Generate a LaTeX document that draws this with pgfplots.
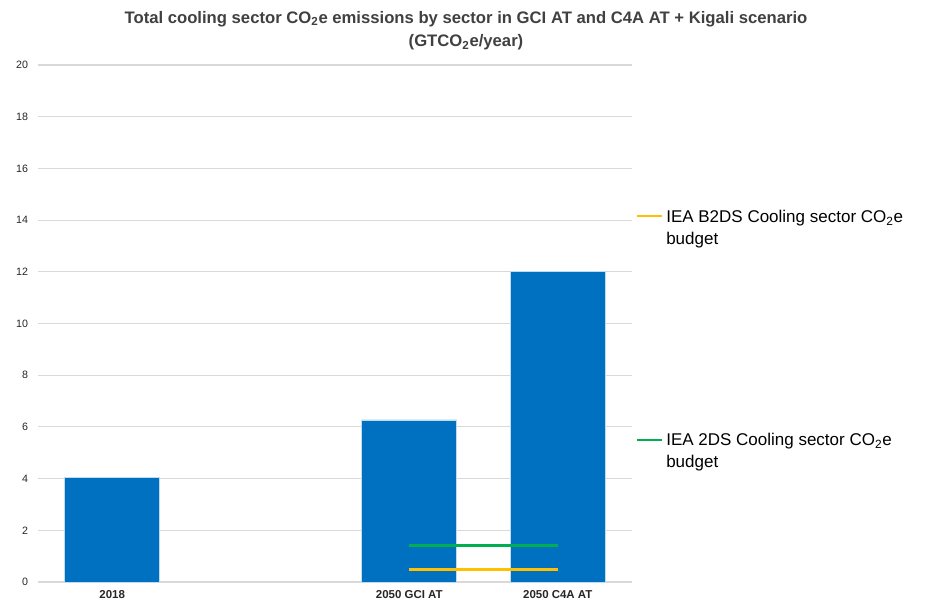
\documentclass[border=0pt]{standalone}
\usepackage{pgfplots}
\pgfplotsset{compat=1.18}
\usepackage{fontspec}
\setmainfont{Liberation Sans}
\definecolor{barblue}{HTML}{0070C0}
\definecolor{kgreen}{HTML}{00B050}
\definecolor{kyellow}{HTML}{FFC000}
\definecolor{gridgrey}{HTML}{D9D9D9}
\definecolor{titlegrey}{HTML}{404040}
\begin{document}
\begin{tikzpicture}
\path[use as bounding box] (0,0) rectangle (697.5pt,451.5pt);
\begin{axis}[
  at={(28.5pt,15pt)}, anchor=south west,
  scale only axis, width=445.5pt, height=387.75pt,
  xmin=-0.5, xmax=3.5, ymin=0, ymax=20,
  xtick={0,2,3}, xticklabels={2018,2050 GCI AT,2050 C4A AT},
  ytick={0,2,...,20},
  axis line style={draw=none},
  major tick length=0pt,
  ymajorgrids, grid style={gridgrey, line width=0.8pt},
  tick label style={font=\fontsize{8}{9}\selectfont, text=black!85},
  xticklabel style={font=\fontsize{8.6}{9}\selectfont\bfseries, yshift=-3pt},
  yticklabel style={xshift=-4pt},
  /pgf/number format/assume math mode=true,
  clip=false,
]
\addplot[ybar, bar width=71.25pt, fill=barblue, draw=white!75!barblue, line width=0.5pt]
  coordinates {(0,4.06) (2,6.27) (3,12.03)};
\addplot[kgreen, line width=2.2pt] coordinates {(2,1.40) (3,1.40)};
\addplot[kyellow, line width=2.2pt] coordinates {(2,0.50) (3,0.50)};
\end{axis}
\node[align=center, font=\fontsize{12.5}{17.5}\selectfont\bfseries, text=titlegrey] at (349.5pt,428.5pt)
  {Total cooling sector CO\textsubscript{2}e emissions by sector in GCI AT and C4A AT + Kigali scenario\\(GTCO\textsubscript{2}e/year)};
\draw[kyellow, line width=2.2pt] (477.75pt,289.5pt) -- (496.5pt,289.5pt);
\node[anchor=base west, align=left, inner sep=0pt, font=\fontsize{12.75}{17}\selectfont] at (499.5pt,267.75pt)
  {IEA B2DS Cooling sector CO\textsubscript{2}e\\budget};
\draw[kgreen, line width=2.2pt] (477.75pt,121.5pt) -- (496.5pt,121.5pt);
\node[anchor=base west, align=left, inner sep=0pt, font=\fontsize{12.75}{17}\selectfont] at (499.5pt,100.5pt)
  {IEA 2DS Cooling sector CO\textsubscript{2}e\\budget};
\end{tikzpicture}
\end{document}
